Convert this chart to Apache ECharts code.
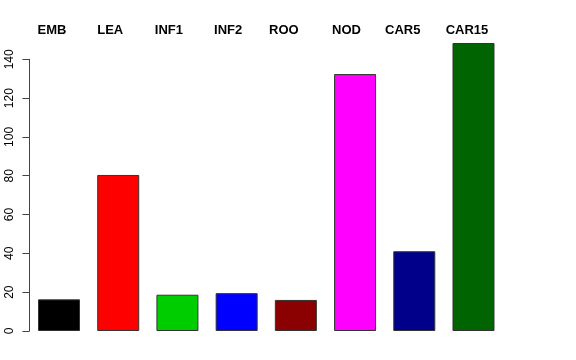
<!DOCTYPE html>
<html><head><meta charset="utf-8">
<script src="https://cdn.jsdelivr.net/npm/echarts@6/dist/echarts.min.js"></script>
<style>html,body{margin:0;padding:0;background:#fff}#c{width:576px;height:360px}</style>
</head><body><div id="c"></div>
<script>
const categories = ["EMB","LEA","INF1","INF2","ROO","NOD","CAR5","CAR15"];
const values = [16.3, 80.4, 18.7, 19.5, 16.0, 132.4, 41.1, 148.4];
const colors = ["#000000","#FF0000","#00CD00","#0000FF","#8B0000","#FF00FF","#00008B","#006400"];
const yTicks = [0,20,40,60,80,100,120,140];
// horizontal nudge (px, leftwards) of each top label relative to its bar centre
const labelNudge = [7, 8, 8.5, 8.5, 12, 8.5, 11.5, 6.5];

const rich = {};
categories.forEach((c,i)=>{
  rich['l'+i] = {fontFamily:'Liberation Sans, Arial, sans-serif', fontWeight:'bold', fontSize:13, color:'#000',
                 padding:[0, 2*labelNudge[i], 0, 0]};
});

const chart = echarts.init(document.getElementById('c'), null, {renderer:'canvas'});
chart.setOption({
  animation:false,
  backgroundColor:'#fff',
  grid:{left:29.4, width:473.7, top:59.3, bottom:29, containLabel:false},
  xAxis:{
    type:'category', data:categories, position:'top',
    axisLine:{show:false}, axisTick:{show:false},
    axisLabel:{margin:22, interval:0, formatter:(v,i)=>'{l'+i+'|'+v+'}', rich:rich}
  },
  yAxis:{
    type:'value', min:yTicks[0], max:yTicks[yTicks.length-1], interval:20,
    axisLine:{show:true, lineStyle:{color:'#444', width:1}},
    axisTick:{show:true, length:7, lineStyle:{color:'#444'}},
    splitLine:{show:false},
    axisLabel:{rotate:90, margin:20, color:'#000', fontFamily:'Liberation Sans, Arial, sans-serif', fontSize:12, verticalAlign:'middle'}
  },
  series:[{
    type:'bar', clip:false, barWidth:42,
    data: values.map((v,i)=>({value:v, itemStyle:{color:colors[i]}})),
    itemStyle:{borderColor:'#333', borderWidth:1}
  }]
});
</script></body></html>
